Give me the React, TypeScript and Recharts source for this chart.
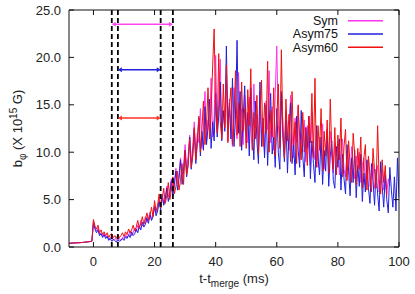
import React from 'react';
import { LineChart, Line, XAxis, YAxis, ReferenceLine, Label } from 'recharts';

// time grid, 0.5 ms step
const tStart = -8;
const tEnd = 100;
const tStep = 0.5;
const times: number[] = [];
for (let t = tStart; t <= tEnd + 1e-9; t += tStep) times.push(Math.round(t * 10) / 10);

// before merge, all three runs sit on the same flat level (-8 .. -0.5 ms)
const preMerge = [0.40, 0.40, 0.42, 0.42, 0.43, 0.44, 0.45, 0.45, 0.47, 0.48, 0.50, 0.52, 0.54, 0.56, 0.58, 0.62];

// 0 .. 97 ms
const symAfter = [
  2.7, 2.1, 1.7, 2.0, 1.3, 1.5, 1.1, 1.4, 1.0, 1.2, 0.8, 1.0, 1.1, 0.7, 0.9, 0.8, 0.6, 0.9, 0.7, 1.0,
  0.9, 1.3, 1.0, 1.2, 1.7, 1.2, 1.5, 2.0, 1.6, 2.3, 1.9, 2.8, 2.2, 2.5, 3.2, 2.6, 3.0, 3.7, 2.9, 3.5,
  4.4, 3.6, 4.1, 5.0, 4.2, 5.6, 4.6, 5.2, 6.4, 5.3, 6.0, 7.2, 5.9, 6.8, 8.3, 6.7, 7.6, 9.4, 7.4, 8.6,
  10.8, 8.3, 9.6, 11.8, 9.0, 10.6, 13.2, 9.8, 12.0, 11.0, 14.6, 10.4, 12.6, 16.4, 11.2, 13.4, 12.2, 17.8, 11.6, 13.8,
  20.2, 12.4, 15.0, 19.8, 11.8, 14.2, 13.0, 17.6, 11.2, 15.6, 12.8, 10.6, 16.8, 13.2, 11.4, 18.4, 12.0, 14.6, 10.8, 16.0,
  13.4, 11.0, 15.8, 12.2, 10.4, 17.2, 12.6, 14.0, 10.6, 16.4, 11.8, 13.2, 9.8, 15.4, 12.4, 18.6, 11.0, 14.8, 10.2, 16.2,
  21.2, 12.8, 11.0, 15.6, 13.2, 9.6, 14.4, 11.6, 10.2, 16.0, 12.2, 9.4, 13.6, 11.0, 14.8, 9.2, 12.0, 10.6, 13.4, 9.0,
  12.8, 10.2, 8.6, 14.2, 10.8, 9.2, 12.4, 8.4, 11.6, 10.0, 13.0, 8.2, 10.6, 11.8, 8.8, 12.2, 9.4, 7.8, 11.0, 9.6,
  10.8, 7.6, 9.8, 11.4, 8.2, 7.4, 10.2, 9.0, 7.0, 10.6, 8.4, 7.2, 9.6, 7.8, 10.0, 6.8, 8.6, 9.4, 6.6, 8.8,
  9.2, 6.4, 7.8, 8.8, 6.2, 7.4, 8.6, 5.8, 7.0, 8.2, 6.0, 7.6, 5.6, 7.2, 6.4,
];

// 0 .. 100 ms
const asym75After = [
  2.5, 1.9, 1.5, 1.8, 1.2, 1.4, 1.0, 1.3, 0.9, 1.1, 0.7, 0.9, 0.6, 0.8, 0.7, 0.5, 0.8, 0.6, 0.7, 0.9,
  0.7, 1.1, 0.9, 1.3, 1.0, 1.6, 1.2, 1.4, 1.9, 1.5, 2.2, 1.8, 2.6, 2.1, 2.4, 3.1, 2.5, 3.4, 2.8, 3.2,
  4.2, 3.3, 3.8, 4.8, 3.9, 5.5, 4.4, 5.0, 6.2, 4.8, 5.6, 7.0, 5.4, 6.6, 8.0, 6.0, 7.2, 9.2, 6.6, 8.0,
  10.2, 7.4, 8.8, 11.6, 8.2, 9.8, 12.4, 8.8, 11.0, 13.6, 9.6, 12.2, 10.2, 14.8, 10.8, 12.6, 15.6, 10.4, 13.2, 11.2,
  16.2, 11.6, 13.8, 17.4, 11.2, 14.4, 12.2, 21.2, 12.8, 15.2, 11.4, 17.8, 10.6, 14.0, 21.8, 12.0, 16.4, 10.2, 13.6, 17.0,
  11.0, 14.2, 9.6, 16.8, 12.4, 9.2, 15.4, 11.2, 8.8, 17.4, 10.6, 13.6, 9.4, 15.0, 8.6, 12.8, 16.2, 9.8, 11.6, 8.4,
  14.6, 10.0, 8.2, 16.4, 11.6, 9.0, 13.4, 7.8, 12.2, 15.2, 8.8, 11.0, 7.6, 13.8, 10.2, 8.4, 14.4, 9.6, 7.4, 12.6,
  10.4, 13.8, 7.2, 11.2, 8.8, 6.8, 12.8, 9.4, 7.6, 11.6, 6.6, 10.2, 8.0, 12.4, 6.4, 9.6, 11.2, 7.0, 6.2, 10.6,
  8.4, 11.4, 6.0, 9.8, 7.2, 5.6, 10.8, 8.0, 5.4, 9.4, 6.8, 10.2, 5.2, 8.6, 6.4, 9.8, 4.8, 7.8, 5.8, 9.2,
  6.2, 4.6, 8.8, 7.0, 4.4, 8.2, 5.6, 3.8, 9.0, 6.4, 4.2, 7.6, 5.0, 3.6, 8.4, 6.0, 4.2, 7.4, 3.8, 9.4, 5.2,
];

// 0 .. 96 ms
const asym60After = [
  2.9, 2.2, 1.9, 2.3, 1.5, 1.8, 1.3, 1.6, 1.2, 1.5, 1.0, 1.3, 1.4, 1.0, 1.2, 0.9, 1.3, 1.0, 1.2, 1.5,
  1.1, 1.6, 1.3, 1.9, 1.5, 1.8, 2.3, 1.7, 2.1, 2.8, 2.0, 2.5, 3.2, 2.4, 2.9, 3.6, 2.8, 3.3, 4.2, 3.2,
  4.9, 3.8, 4.4, 5.6, 4.1, 5.0, 6.2, 4.6, 5.4, 6.8, 5.0, 6.0, 7.4, 5.6, 6.4, 8.0, 6.0, 7.0, 8.8, 6.6,
  10.2, 7.6, 8.6, 11.4, 8.4, 9.6, 12.6, 9.2, 11.2, 13.8, 10.0, 12.4, 15.4, 10.8, 12.8, 16.8, 11.4, 14.2, 19.0, 23.0,
  14.4, 12.0, 20.4, 13.2, 11.4, 17.2, 12.6, 19.2, 11.0, 14.8, 16.8, 10.8, 13.6, 18.6, 11.8, 15.2, 10.6, 17.4, 12.2, 14.6,
  10.4, 16.6, 12.8, 18.8, 10.2, 14.2, 11.4, 16.0, 9.8, 13.4, 17.6, 10.6, 15.2, 12.0, 19.6, 10.0, 14.4, 11.6, 16.8, 9.6,
  13.6, 17.2, 10.4, 20.8, 12.2, 9.4, 15.6, 11.2, 14.0, 9.0, 16.4, 10.8, 13.2, 8.8, 15.0, 11.6, 9.2, 14.2, 10.0, 12.6,
  8.6, 13.8, 11.0, 16.2, 9.4, 17.8, 8.4, 12.8, 10.2, 14.6, 8.0, 12.2, 9.6, 13.4, 7.8, 15.6, 10.4, 8.2, 12.6, 7.6,
  11.8, 9.2, 13.6, 7.4, 10.6, 12.4, 7.0, 11.2, 8.6, 6.8, 12.0, 9.8, 6.6, 10.4, 8.2, 11.6, 6.2, 9.4, 10.8, 6.0,
  9.6, 7.6, 5.8, 10.4, 8.0, 6.2, 12.8, 7.2, 5.6, 9.2, 6.8, 8.6, 5.4,
];

const sym = [...preMerge, ...symAfter];
const asym75 = [...preMerge, ...asym75After];
const asym60 = [...preMerge, ...asym60After];

const xTicks = [0, 20, 40, 60, 80, 100];
const yTicks = [0, 5, 10, 15, 20, 25];
const dashedX = [6, 8, 22, 26];

const arrows = [
  { from: 6, to: 26, y: 23.5, color: '#ff44ee' },
  { from: 8, to: 22, y: 18.7, color: '#2222dd' },
  { from: 8, to: 22, y: 13.6, color: '#ff3322' },
];

const series = [
  { key: 'sym', name: 'Sym', color: '#ff33ee', values: sym },
  { key: 'asym75', name: 'Asym75', color: '#2020e0', values: asym75 },
  { key: 'asym60', name: 'Asym60', color: '#f01010', values: asym60 },
];

const data = times.map((t, i) => {
  const row: Record<string, number | undefined> = { t };
  series.forEach((s) => { row[s.key] = s.values[i]; });
  return row;
});

const FONT = 'Liberation Sans, Arial, sans-serif';

const arrowShape = (color: string) => (props: any) => {
  const { x1, y1, x2, y2 } = props;
  const h = 4;
  const w = 2.5;
  return (
    <g>
      <line x1={x1 + 2} y1={y1} x2={x2 - 2} y2={y2} stroke={color} strokeWidth={1.5} />
      <polygon points={`${x1},${y1} ${x1 + h},${y1 - w} ${x1 + h},${y1 + w}`} fill={color} />
      <polygon points={`${x2},${y2} ${x2 - h},${y2 - w} ${x2 - h},${y2 + w}`} fill={color} />
    </g>
  );
};

const XTitle = (props: any) => {
  const { x, y, width } = props.viewBox;
  return (
    <text x={x + width / 2} y={y + 35.5} textAnchor="middle" fontSize={13} fontFamily={FONT} fill="#222">
      <tspan>t-t</tspan>
      <tspan dy={4} fontSize={10}>merge</tspan>
      <tspan dy={-4}> (ms)</tspan>
    </text>
  );
};

const YTitle = (props: any) => {
  const { y, height } = props.viewBox;
  const cx = 22;
  const cy = y + height / 2;
  return (
    <text x={cx} y={cy} transform={`rotate(-90, ${cx}, ${cy})`} textAnchor="middle" fontSize={13} fontFamily={FONT} fill="#222">
      <tspan>b</tspan>
      <tspan dy={4} fontSize={10}>φ</tspan>
      <tspan dy={-4}> (X 10</tspan>
      <tspan dy={-5} fontSize={10}>15</tspan>
      <tspan dy={5}> G)</tspan>
    </text>
  );
};

// key box in the upper right of the plot: names right-aligned, line sample to their right
const KeyBox = () => (
  <svg width={125} height={42} style={{ position: 'absolute', left: 258, top: 15, overflow: 'visible' }}>
    {series.map((s, i) => {
      const cy = 5.8 + i * 13.2;
      return (
        <g key={s.key}>
          <text x={80} y={cy + 4.3} textAnchor="end" fontSize={12.5} fontFamily={FONT} fill="#111">{s.name}</text>
          <line x1={90} x2={125} y1={cy} y2={cy} stroke={s.color} strokeWidth={1.5} />
        </g>
      );
    })}
  </svg>
);

const App = () => {
  return (
    <div style={{ position: 'absolute', left: 0, top: 0, width: 415, height: 294, background: '#fff' }}>
      <LineChart width={415} height={294} data={data} margin={{ top: 0, right: 0, bottom: 0, left: 0 }}>
        <XAxis
          xAxisId="bottom"
          dataKey="t"
          type="number"
          domain={[-8, 100]}
          ticks={xTicks}
          allowDataOverflow
          height={47}
          tickSize={-5}
          tickMargin={15}
          stroke="#111"
          tick={{ fontSize: 13, fontFamily: FONT, fill: '#222' }}
        >
          <Label content={<XTitle />} />
        </XAxis>
        <XAxis
          xAxisId="top"
          orientation="top"
          dataKey="t"
          type="number"
          domain={[-8, 100]}
          ticks={xTicks}
          allowDataOverflow
          height={10}
          tickSize={-5}
          stroke="#111"
          tickFormatter={() => ''}
        />
        <YAxis
          yAxisId="left"
          domain={[0, 25]}
          ticks={yTicks}
          allowDataOverflow
          width={69}
          tickSize={-5}
          tickMargin={13}
          stroke="#111"
          tickFormatter={(v: number) => v.toFixed(1)}
          tick={{ fontSize: 13, fontFamily: FONT, fill: '#222' }}
        >
          <Label content={<YTitle />} />
        </YAxis>
        <YAxis
          yAxisId="right"
          orientation="right"
          domain={[0, 25]}
          ticks={yTicks}
          allowDataOverflow
          width={16}
          tickSize={-5}
          stroke="#111"
          tickFormatter={() => ''}
        />
        {series.map((s) => (
          <Line
            key={s.key}
            xAxisId="bottom"
            yAxisId="left"
            dataKey={s.key}
            name={s.name}
            stroke={s.color}
            strokeWidth={1}
            dot={false}
            type="linear"
            isAnimationActive={false}
          />
        ))}
        {dashedX.map((x) => (
          <ReferenceLine key={x} xAxisId="bottom" yAxisId="left" x={x} stroke="#000" strokeWidth={1.8} strokeDasharray="5 3" />
        ))}
        {arrows.map((a, i) => (
          <ReferenceLine
            key={i}
            xAxisId="bottom"
            yAxisId="left"
            segment={[{ x: a.from, y: a.y }, { x: a.to, y: a.y }]}
            stroke={a.color}
            shape={arrowShape(a.color)}
          />
        ))}
      </LineChart>
      <KeyBox />
    </div>
  );
};

export default App;
